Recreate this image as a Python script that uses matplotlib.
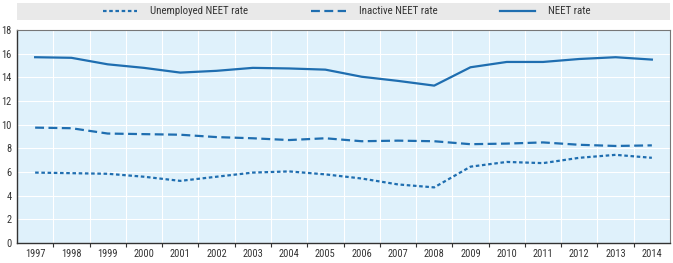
import matplotlib
matplotlib.use("Agg")
import matplotlib.pyplot as plt
from matplotlib.patches import Rectangle
import numpy as np

plt.rcParams['font.family'] = ['Roboto Condensed', 'Archivo Narrow', 'DejaVu Sans']

years = [str(y) for y in range(1997, 2015)]
neet = [15.7, 15.65, 15.1, 14.8, 14.4, 14.55, 14.8, 14.75, 14.65, 14.05,
        13.7, 13.3, 14.85, 15.3, 15.3, 15.55, 15.7, 15.5]
inactive = [9.75, 9.7, 9.25, 9.2, 9.15, 8.95, 8.85, 8.7, 8.85, 8.6,
            8.65, 8.6, 8.35, 8.4, 8.5, 8.3, 8.2, 8.25]
unemployed = [5.95, 5.9, 5.85, 5.6, 5.25, 5.6, 5.95, 6.05, 5.8, 5.45,
              4.95, 4.7, 6.45, 6.85, 6.75, 7.2, 7.45, 7.2]

blue = "#1f6eb0"
bg = "#dff1fb"

fig = plt.figure(figsize=(6.73, 2.63), dpi=100)
ax = fig.add_axes([17 / 673, 20 / 263, 653 / 673, 213 / 263])
ax.set_facecolor(bg)

x = np.arange(len(years)) + 0.5
l1, = ax.plot(x, unemployed, color=blue, lw=1.6, ls=(0, (1.6, 1.2)))
l2, = ax.plot(x, inactive, color=blue, lw=1.6, ls=(0, (4, 2)))
l3, = ax.plot(x, neet, color=blue, lw=1.6)

ax.set_xlim(0, len(years))
ax.set_ylim(0, 18)
ax.set_yticks(range(0, 19, 2))
ax.set_xticks(np.arange(1, len(years)))
ax.set_xticklabels([])
ax.set_xticks(x, minor=True)
ax.set_xticklabels(years, minor=True)
ax.tick_params(axis="x", which="major", length=3, color="#333333")
ax.tick_params(axis="x", which="minor", length=0, pad=4)
ax.tick_params(axis="y", length=0, pad=4)
ax.tick_params(which="both", labelsize=7.5, labelcolor="#333333")
ax.grid(True, which="major", color="white", lw=0.8)
ax.set_axisbelow(True)
for s in ["top", "right"]:
    ax.spines[s].set_color("#777777")
    ax.spines[s].set_linewidth(0.8)
for s in ["left", "bottom"]:
    ax.spines[s].set_color("#333333")
    ax.spines[s].set_linewidth(1.0)

fig.patches.append(Rectangle((17 / 673, 1 - 20 / 263), 653 / 673, 17 / 263,
                             transform=fig.transFigure, facecolor="#e9e9e9",
                             edgecolor="none", zorder=0))
fig.legend([l1, l2, l3], ["Unemployed NEET rate", "Inactive NEET rate", "NEET rate"],
           loc="center left", bbox_to_anchor=(93 / 673, 1 - 11.5 / 263), ncol=3,
           frameon=False, fontsize=7.8, handlelength=3.2, columnspacing=5.8,
           handletextpad=1.2, labelcolor="#333333")

fig.savefig("out.png", dpi=100)
